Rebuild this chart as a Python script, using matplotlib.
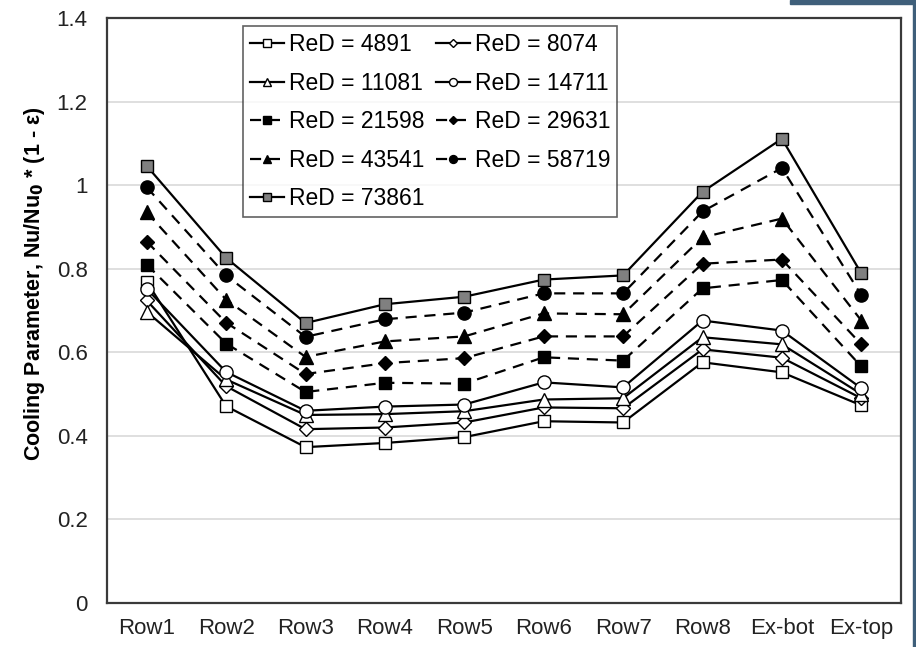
import matplotlib
matplotlib.use('Agg')
import matplotlib.pyplot as plt
from matplotlib.patches import Rectangle
import numpy as np

plt.rcParams['font.family'] = ['Liberation Sans', 'DejaVu Sans']

# 测点位置
rows = ['Row1', 'Row2', 'Row3', 'Row4', 'Row5', 'Row6', 'Row7', 'Row8', 'Ex-bot', 'Ex-top']

# 各雷诺数下的冷却参数
re_4891 = [0.769, 0.471, 0.373, 0.383, 0.397, 0.435, 0.432, 0.576, 0.552, 0.473]
re_8074 = [0.724, 0.519, 0.416, 0.420, 0.432, 0.468, 0.466, 0.607, 0.587, 0.490]
re_11081 = [0.697, 0.535, 0.450, 0.452, 0.459, 0.487, 0.490, 0.636, 0.619, 0.500]
re_14711 = [0.752, 0.553, 0.460, 0.470, 0.475, 0.528, 0.516, 0.676, 0.652, 0.514]
re_21598 = [0.810, 0.621, 0.505, 0.527, 0.525, 0.588, 0.580, 0.753, 0.773, 0.566]
re_29631 = [0.865, 0.671, 0.548, 0.574, 0.586, 0.638, 0.638, 0.812, 0.822, 0.619]
re_43541 = [0.935, 0.726, 0.589, 0.626, 0.638, 0.693, 0.691, 0.875, 0.920, 0.676]
re_58719 = [0.995, 0.784, 0.637, 0.679, 0.695, 0.741, 0.741, 0.937, 1.041, 0.737]
re_73861 = [1.046, 0.826, 0.670, 0.715, 0.733, 0.774, 0.784, 0.984, 1.111, 0.789]

re_values = [4891, 8074, 11081, 14711, 21598, 29631, 43541, 58719, 73861]
series = [re_4891, re_8074, re_11081, re_14711, re_21598, re_29631, re_43541, re_58719, re_73861]

# (marker, 填充色, 线型)
dash = (0, (5, 3.5))
styles = [
    ('s', 'white', '-'),
    ('D', 'white', '-'),
    ('^', 'white', '-'),
    ('o', 'white', '-'),
    ('s', 'black', dash),
    ('D', 'black', dash),
    ('^', 'black', dash),
    ('o', 'black', dash),
    ('s', '#808080', '-'),
]
msizes = {'s': 8.5, 'D': 7, '^': 9.5, 'o': 9.5}

fig = plt.figure(figsize=(9.16, 6.47), dpi=100)
ax = fig.add_axes([107 / 916, 1 - 603 / 647, 794 / 916, 585 / 647])

x = np.arange(len(rows))
handles = []
for re, y, (mk, fc, ls) in zip(re_values, series, styles):
    h, = ax.plot(x, y, linestyle=ls, color='black', linewidth=1.6,
                 marker=mk, markersize=msizes[mk], markerfacecolor=fc,
                 markeredgecolor='black', markeredgewidth=1.0,
                 label=f'ReD = {re}')
    handles.append(h)

ax.set_xlim(-0.5, len(rows) - 0.5)
ax.set_ylim(0, 1.4)
ax.set_xticks(x)
ax.set_xticklabels(rows, fontsize=16)
yt = np.arange(0, 1.41, 0.2)
ax.set_yticks(yt)
ax.set_yticklabels([f'{v:g}' for v in np.round(yt, 1)], fontsize=16)
ax.tick_params(axis='both', length=0, colors='#222222')
ax.tick_params(axis='y', pad=14)
ax.tick_params(axis='x', pad=11)

ax.grid(axis='y', color='#d9d9d9', linewidth=1.2)
ax.set_axisbelow(True)
for sp in ax.spines.values():
    sp.set_color('#3a3a3a')
    sp.set_linewidth(1.6)

ax.set_ylabel(r'Cooling Parameter, Nu/Nu$_\mathbf{0}$ * (1 - ε)', fontsize=15.5,
              fontweight='bold')
ax.yaxis.set_label_coords(-0.076, 0.545)

# 图例按行排列：重排句柄使两列顺序与行优先一致
order = [0, 2, 4, 6, 8, 1, 3, 5, 7]
leg = ax.legend([handles[i] for i in order], [handles[i].get_label() for i in order],
                ncol=2, loc='upper left', bbox_to_anchor=(0.171, 0.986),
                fontsize=16.5, frameon=True, fancybox=False, edgecolor='#3a3a3a',
                handlelength=1.5, handletextpad=0.2, columnspacing=0.5,
                labelspacing=0.68, borderpad=0.3, markerscale=0.6,
                borderaxespad=0)
leg.get_frame().set_linewidth(1.2)

# 右上角的蓝灰色边条
fig.patches.append(Rectangle((790 / 916, 1 - 4 / 647), 126 / 916, 4 / 647,
                             transform=fig.transFigure, color='#3f5f7a', zorder=0))
fig.patches.append(Rectangle((913 / 916, 0), 3 / 916, 1,
                             transform=fig.transFigure, color='#3f5f7a', zorder=0))

fig.savefig('out.png', dpi=100)
